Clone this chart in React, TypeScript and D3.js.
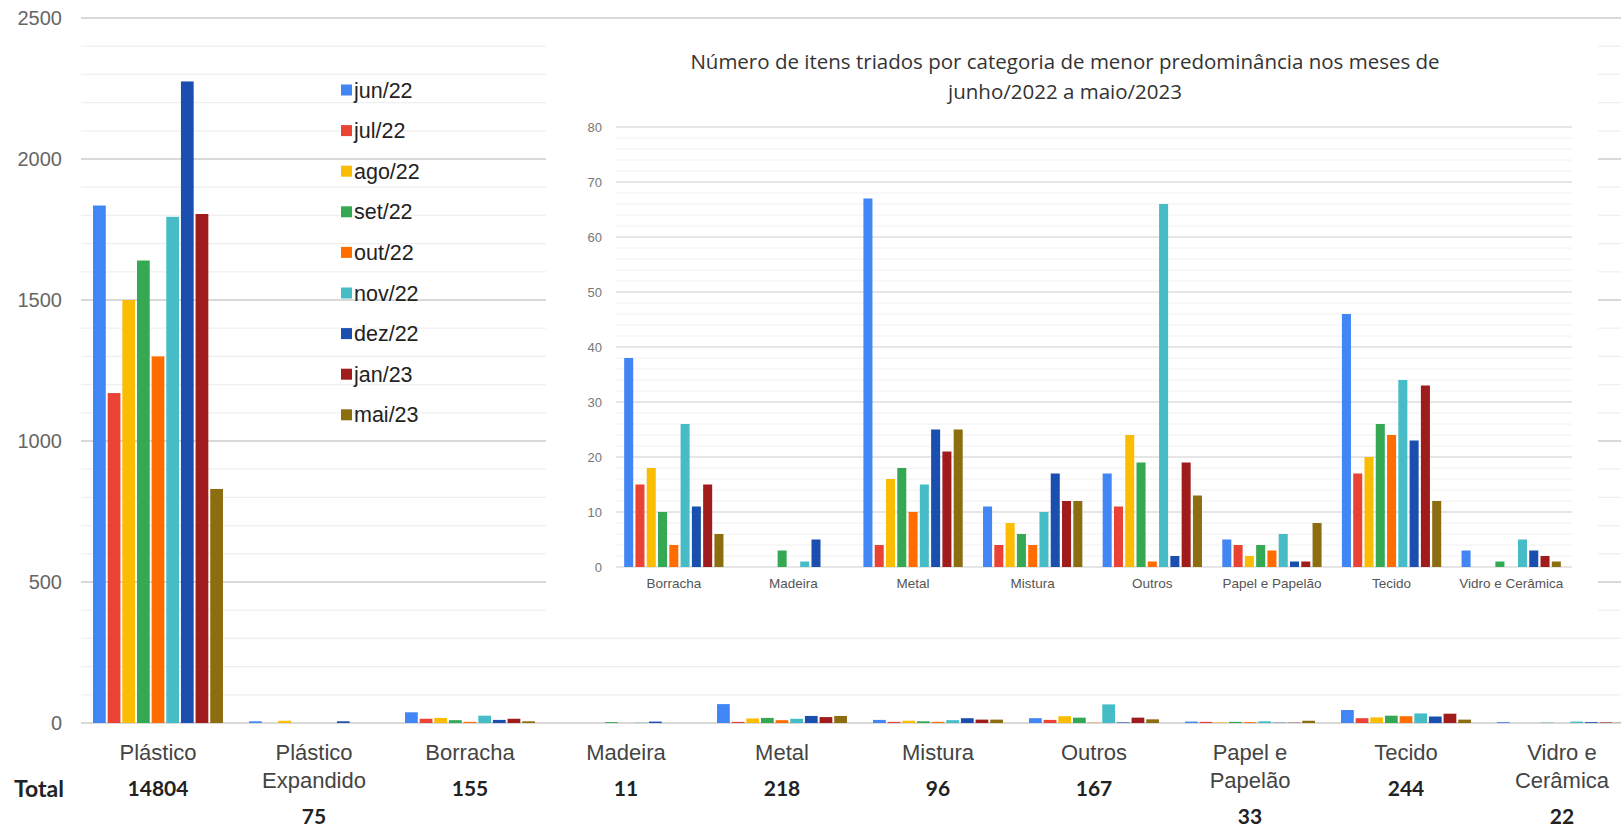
import React from 'react';
import * as d3 from 'd3';

// Months shown in the legend and their bar colours
const months = ['jun/22', 'jul/22', 'ago/22', 'set/22', 'out/22', 'nov/22', 'dez/22', 'jan/23', 'mai/23'];
const monthColors = ['#4285F4', '#EA4335', '#FBBC04', '#34A853', '#FF6D01', '#46BDC6', '#1A4FB0', '#A01C1C', '#8C6D10'];

// Categories of sorted items
const categories = ['Plástico', 'Plástico Expandido', 'Borracha', 'Madeira', 'Metal', 'Mistura', 'Outros', 'Papel e Papelão', 'Tecido', 'Vidro e Cerâmica'];
const categoryLines = [['Plástico'], ['Plástico', 'Expandido'], ['Borracha'], ['Madeira'], ['Metal'], ['Mistura'], ['Outros'], ['Papel e', 'Papelão'], ['Tecido'], ['Vidro e', 'Cerâmica']];
const totals = [14804, 75, 155, 11, 218, 96, 167, 33, 244, 22];

// Monthly counts per category (same order as months)
const plastico = [1835, 1170, 1500, 1640, 1300, 1795, 2275, 1805, 830];
const plasticoExpandido = [6, 0, 8, 0, 0, 0, 6, 0, 0];
const borracha = [38, 15, 18, 10, 4, 26, 11, 15, 6];
const madeira = [0, 0, 0, 3, 0, 1, 5, 0, 0];
const metal = [67, 4, 16, 18, 10, 15, 25, 21, 25];
const mistura = [11, 4, 8, 6, 4, 10, 17, 12, 12];
const outros = [17, 11, 24, 19, 1, 66, 2, 19, 13];
const papel = [5, 4, 2, 4, 3, 6, 1, 1, 8];
const tecido = [46, 17, 20, 26, 24, 34, 23, 33, 12];
const vidro = [3, 0, 0, 1, 0, 5, 3, 2, 1];

const seriesByCategory = [plastico, plasticoExpandido, borracha, madeira, metal, mistura, outros, papel, tecido, vidro];

// Inset: the less frequent categories
const minorCategories = categories.slice(2);
const minorSeries = seriesByCategory.slice(2);
const insetTitle = ['Número de itens triados por categoria de menor predominância nos meses de', 'junho/2022 a maio/2023'];

const mainTicks = [0, 500, 1000, 1500, 2000, 2500];
const insetTicks = [0, 10, 20, 30, 40, 50, 60, 70, 80];

const SANS = "'Liberation Sans', Arial, sans-serif";
const BOLD = "Lato, 'Open Sans', sans-serif";
const TITLE = "'Open Sans', 'Noto Sans', sans-serif";

export default function App() {
  const W = 1621;
  const H = 829;

  // Main chart scales
  const y = d3.scaleLinear().domain([0, 2500]).range([723, 18]);
  const x = d3.scaleBand<string>().domain(categories).range([80, 1640]).paddingInner(0.167).paddingOuter(0.0835);
  const xm = d3.scaleBand<string>().domain(months).range([0, x.bandwidth()]).paddingInner(0.13);
  const gridX0 = 81;
  const gridX1 = W;

  // Inset scales
  const iy = d3.scaleLinear().domain([0, 80]).range([567, 127]);
  const ix = d3.scaleBand<string>().domain(minorCategories).range([614, 1571]).paddingInner(0.17).paddingOuter(0.085);
  const ixm = d3.scaleBand<string>().domain(months).range([0, ix.bandwidth()]).paddingInner(0.2);
  const insetGridX0 = 616;
  const insetGridX1 = 1572;

  const mainGrid = d3.range(0, 2501, 100);
  const insetGrid = d3.range(0, 81, 2);

  const legendX = 341;
  const legendY0 = 90;
  const legendStep = 40.6;

  return (
    <svg width={W} height={H} style={{ position: 'absolute', left: 0, top: 0, background: '#fff' }}>
      <rect x={0} y={0} width={W} height={H} fill="#fff" />

      {/* main gridlines */}
      {mainGrid.map((v) => (
        <line key={'g' + v} x1={gridX0} x2={gridX1} y1={y(v)} y2={y(v)}
          stroke={v % 500 === 0 ? '#d9d9d9' : '#efefef'} strokeWidth={v % 500 === 0 ? 2 : 1.2} />
      ))}

      {/* main y-axis labels */}
      {mainTicks.map((v) => (
        <text key={'yt' + v} x={62} y={y(v)} dy="0.35em" textAnchor="end" fontFamily={SANS} fontSize={20} fill="#666">{v}</text>
      ))}

      {/* main bars */}
      {categories.map((c, ci) => (
        <g key={'mb' + c} transform={`translate(${x(c)},0)`}>
          {seriesByCategory[ci].map((v, mi) => (
            <rect key={mi} x={xm(months[mi])} width={xm.bandwidth()} y={y(v)} height={y(0) - y(v)} fill={monthColors[mi]} />
          ))}
        </g>
      ))}

      {/* category labels and totals */}
      {categories.map((c, ci) => {
        const cx = (x(c) as number) + x.bandwidth() / 2;
        const lines = categoryLines[ci];
        return (
          <g key={'cl' + c}>
            {lines.map((l, li) => (
              <text key={li} x={cx} y={752 + li * 28} dy="0.35em" textAnchor="middle" fontFamily={SANS} fontSize={22} fill="#444">{l}</text>
            ))}
            <text x={cx} y={lines.length > 1 ? 817 : 789} dy="0.35em" textAnchor="middle" fontFamily={BOLD} fontWeight={700} fontSize={21} fill="#222">{totals[ci]}</text>
          </g>
        );
      })}
      <text x={14} y={789} dy="0.35em" fontFamily={BOLD} fontWeight={700} fontSize={23} fill="#222">Total</text>

      {/* legend */}
      {months.map((m, i) => (
        <g key={'lg' + m} transform={`translate(${legendX},${legendY0 + i * legendStep})`}>
          <rect x={0} y={-5.5} width={11} height={11} fill={monthColors[i]} />
          <text x={13} y={0} dy="0.35em" fontFamily={SANS} fontSize={21.5} fill="#222">{m}</text>
        </g>
      ))}

      {/* inset panel */}
      <rect x={546} y={25} width={1052} height={597} fill="#fff" />
      {insetTitle.map((t, i) => (
        <text key={'it' + i} x={1065} y={62 + i * 30} dy="0.35em" textAnchor="middle" fontFamily={TITLE} fontSize={20.5} fill="#333">{t}</text>
      ))}
      {insetGrid.map((v) => (
        <line key={'ig' + v} x1={insetGridX0} x2={insetGridX1} y1={iy(v)} y2={iy(v)}
          stroke={v % 10 === 0 ? '#dedede' : '#f0f0f0'} strokeWidth={v % 10 === 0 ? 1.5 : 1} />
      ))}
      {insetTicks.map((v) => (
        <text key={'iyt' + v} x={602} y={iy(v)} dy="0.35em" textAnchor="end" fontFamily={SANS} fontSize={13} fill="#777">{v}</text>
      ))}
      {minorCategories.map((c, ci) => (
        <g key={'ib' + c} transform={`translate(${ix(c)},0)`}>
          {minorSeries[ci].map((v, mi) => (
            <rect key={mi} x={ixm(months[mi])} width={ixm.bandwidth()} y={iy(v)} height={iy(0) - iy(v)} fill={monthColors[mi]} />
          ))}
          <text x={ix.bandwidth() / 2} y={583} dy="0.35em" textAnchor="middle" fontFamily={SANS} fontSize={13.5} fill="#555">{c}</text>
        </g>
      ))}
    </svg>
  );
}
